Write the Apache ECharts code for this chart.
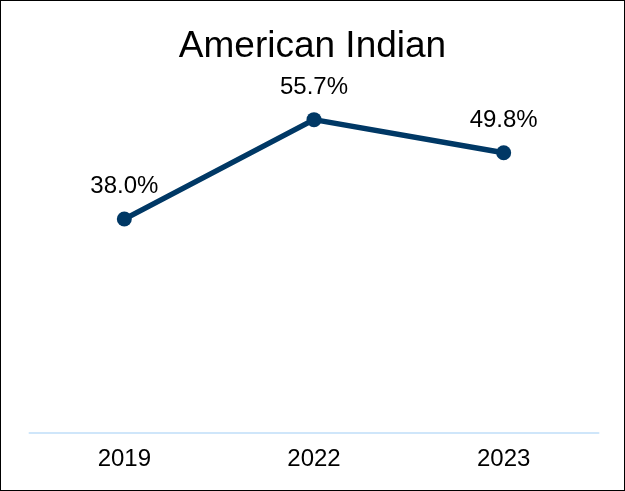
<!DOCTYPE html>
<html>
<head>
<meta charset="utf-8">
<script src="https://cdn.jsdelivr.net/npm/echarts@6/dist/echarts.min.js"></script>
<style>
  html, body { margin: 0; padding: 0; background: #fff; }
  #chart { width: 625px; height: 491px; box-sizing: border-box; border: 1.5px solid #000; }
</style>
</head>
<body>
<div id="chart"></div>
<script>
// Share of respondents by survey year
const years = ['2019', '2022', '2023'];
const shares = [38.0, 55.7, 49.8];

const chart = echarts.init(document.getElementById('chart'), null, { renderer: 'canvas' });
chart.setOption({
  animation: false,
  title: {
    text: 'American Indian',
    left: 'center',
    top: 22,
    textStyle: { fontFamily: 'Liberation Sans', fontSize: 37, fontWeight: 'normal', color: '#000' }
  },
  grid: { left: 28.5, right: 25.5, top: 94.5, bottom: 57.5 },
  xAxis: {
    type: 'category',
    data: years,
    boundaryGap: true,
    axisLine: { show: true, lineStyle: { color: '#cfe6fa', width: 2 } },
    axisTick: { show: false },
    axisLabel: { fontFamily: 'Liberation Sans', fontSize: 24, color: '#000', margin: 15 }
  },
  yAxis: {
    type: 'value',
    min: 0,
    max: 60,
    show: false,
    splitLine: { show: false }
  },
  series: [{
    type: 'line',
    data: shares,
    symbol: 'circle',
    symbolSize: 15,
    lineStyle: { color: '#003865', width: 5.5 },
    itemStyle: { color: '#003865' },
    label: {
      show: true,
      position: 'top',
      distance: 13,
      formatter: p => p.value.toFixed(1) + '%',
      fontFamily: 'Liberation Sans',
      fontSize: 24,
      color: '#000'
    }
  }]
});
</script>
</body>
</html>
